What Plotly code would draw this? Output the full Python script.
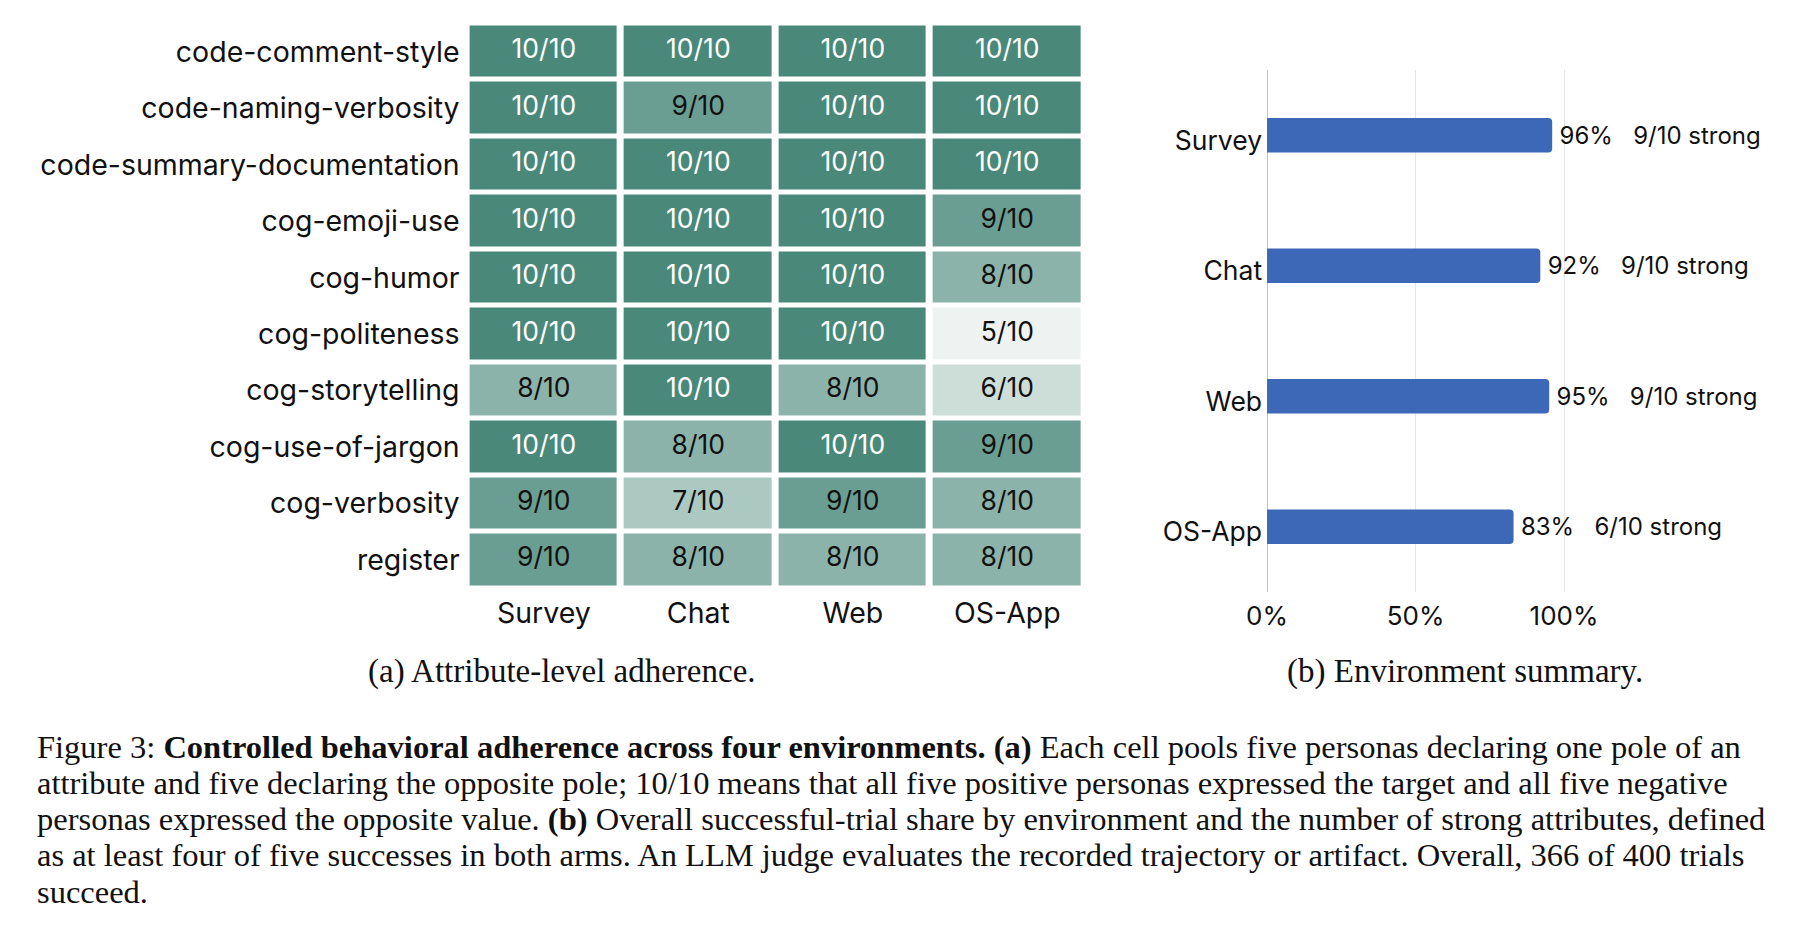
import plotly.graph_objects as go

# --- data -------------------------------------------------------------
environments = ["Survey", "Chat", "Web", "OS-App"]
attributes = [
    "code-comment-style",
    "code-naming-verbosity",
    "code-summary-documentation",
    "cog-emoji-use",
    "cog-humor",
    "cog-politeness",
    "cog-storytelling",
    "cog-use-of-jargon",
    "cog-verbosity",
    "register",
]
# successes out of 10, one row per attribute, columns follow `environments`
scores = [
    [10, 10, 10, 10],
    [10, 9, 10, 10],
    [10, 10, 10, 10],
    [10, 10, 10, 9],
    [10, 10, 10, 8],
    [10, 10, 10, 5],
    [8, 10, 8, 6],
    [10, 8, 10, 9],
    [9, 7, 9, 8],
    [9, 8, 8, 8],
]
success_share = [0.96, 0.92, 0.95, 0.83]
strong_attrs = [9, 9, 9, 6]

W, H = 1802, 944
FONT = "Inter"
SERIF = "Liberation Serif"


# layout helpers: target pixel positions -> paper coords
# (the page draws the plot slightly offset from the window corner)
def px_x(p):
    return (p / 1.15 - 25.1) * 1.1635 / W


def px_y(p):
    return 1 - (p - 9) / H


fig = go.Figure()

# (a) heatmap
fig.add_trace(go.Heatmap(
    z=scores, x=environments, y=attributes,
    zmin=5, zmax=10,
    colorscale=[[0, "#eef3f1"], [1, "#4a897a"]],
    showscale=False, xgap=7, ygap=5, hoverinfo="skip",
    xaxis="x", yaxis="y",
))

# cell labels: white on full score, black otherwise
for is_full, color in [(True, "white"), (False, "#111111")]:
    xs, ys, txt = [], [], []
    for attr, row in zip(attributes, scores):
        for env, v in zip(environments, row):
            if (v == 10) == is_full:
                xs.append(env)
                ys.append(attr)
                txt.append(f"{v}/10")
    fig.add_trace(go.Scatter(
        x=xs, y=ys, text=txt, mode="text",
        textfont=dict(family=FONT, size=26.5, color=color),
        hoverinfo="skip", showlegend=False, xaxis="x", yaxis="y",
    ))

# (b) bar summary
bar_labels = [f"\u2009{round(s * 100)}%\u00a0\u00a0\u00a0{k}/10 strong"
              for s, k in zip(success_share, strong_attrs)]
fig.add_trace(go.Bar(
    x=success_share, y=environments, orientation="h",
    marker=dict(color="#3d68b8", cornerradius=4, line=dict(width=0)),
    text=bar_labels, textposition="outside", cliponaxis=False,
    textfont=dict(family=FONT, size=24, color="#111111"),
    hoverinfo="skip", showlegend=False, xaxis="x2", yaxis="y2",
))

x0_bar, x100_bar = px_x(1267), px_x(1564)
x_max = 1.72

fig.update_layout(
    width=W, height=H, autosize=False,
    margin=dict(l=0, r=0, t=0, b=0),
    paper_bgcolor="white", plot_bgcolor="white",
    showlegend=False,
    bargap=0.735,
    font=dict(family=FONT, color="#111111"),
    xaxis=dict(
        domain=[px_x(466.5), px_x(1084.5)], showgrid=False, zeroline=False,
        side="bottom", tickfont=dict(family=FONT, size=28.5, color="#111111"),
        ticks="", ticklabelstandoff=5, showline=False,
    ),
    yaxis=dict(
        domain=[px_y(589), px_y(24.5)], autorange="reversed",
        showgrid=False, zeroline=False, ticks="",
        tickfont=dict(family=FONT, size=28.5, color="#111111"),
        ticklabelstandoff=6,
    ),
    xaxis2=dict(
        domain=[x0_bar, x0_bar + (x100_bar - x0_bar) * x_max],
        range=[0, x_max],
        tickvals=[0, 0.5, 1], ticktext=["0%", "50%", "100%"],
        showgrid=True, gridcolor="#e6e6e6", gridwidth=1,
        zeroline=True, zerolinecolor="#c4c4c4", zerolinewidth=1,
        tickfont=dict(family=FONT, size=26, color="#111111"),
        ticks="", ticklabelstandoff=6, anchor="y2",
    ),
    yaxis2=dict(
        domain=[px_y(593), px_y(71)], autorange="reversed",
        showgrid=False, zeroline=False, ticks="",
        tickfont=dict(family=FONT, size=26.5, color="#111111"),
        ticklabelstandoff=4, ticklabelshift=-5, anchor="x2",
    ),
)

# sub-captions
for label, cx in [("(a) Attribute-level adherence.", 562),
                  ("(b) Environment summary.", 1465)]:
    fig.add_annotation(
        text=label, x=px_x(cx), y=px_y(672), xref="paper", yref="paper",
        showarrow=False, xanchor="center", yanchor="middle",
        font=dict(family=SERIF, size=33, color="#111111"),
    )

# figure caption, one annotation per line
caption_lines = [
    "Figure 3: <b>Controlled behavioral adherence across four environments.</b> "
    "<b>(a)</b> Each cell pools five personas declaring one pole of an",
    "attribute and five declaring the opposite pole; 10/10 means that all five "
    "positive personas expressed the target and all five negative",
    "personas expressed the opposite value. <b>(b)</b> Overall successful-trial "
    "share by environment and the number of strong attributes, defined",
    "as at least four of five successes in both arms. An LLM judge evaluates "
    "the recorded trajectory or artifact. Overall, 366 of 400 trials",
    "succeed.",
]
for i, line in enumerate(caption_lines):
    fig.add_annotation(
        text=line, x=px_x(34.5), y=px_y(747.5 + i * 36.25), xref="paper",
        yref="paper", showarrow=False, xanchor="left", yanchor="middle",
        font=dict(family=SERIF, size=32.5, color="#111111"),
    )

fig.write_html("out.html")
